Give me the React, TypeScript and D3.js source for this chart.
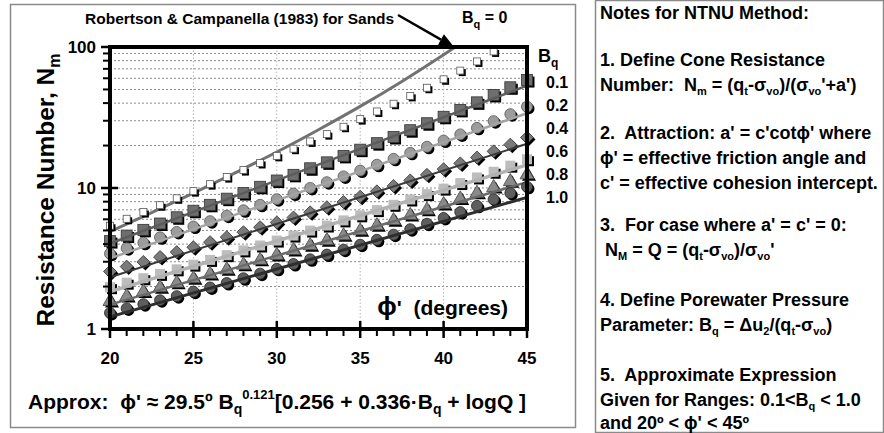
import React from "react";
import * as d3 from "d3";

// ---------- data ----------
const phiDeg = [20,21,22,23,24,25,26,27,28,29,30,31,32,33,34,35,36,37,38,39,40,41,42,43,44,45];
const phiBq0 = [20,21,22,23,24,25,26,27,28,29,30,31,32,33,34,35,36,37,38,39,40,41,42,43];
const nmBq0 = [5.4,6.05,6.75,7.55,8.45,9.5,10.65,11.95,13.4,15.05,16.9,19.0,21.4,24.1,27.2,30.8,34.9,39.6,45.0,51.4,59.0,68.0,79.0,93.0];
const nmBq01 = [4.2,4.6,5.05,5.6,6.2,6.9,7.6,8.4,9.2,10.2,11.3,12.4,13.8,15.2,16.9,18.7,20.8,23.0,25.7,28.8,32.0,35.8,40.5,45.7,51.8,58.3];
const nmBq02 = [3.42,3.74,4.09,4.47,4.88,5.33,5.82,6.36,6.95,7.6,8.33,9.13,10.02,11.0,12.09,13.29,14.62,16.1,17.75,19.6,21.7,24.0,26.7,29.8,33.4,37.7];
const nmBq04 = [2.56,2.77,2.99,3.24,3.51,3.8,4.13,4.48,4.86,5.27,5.7,6.18,6.72,7.31,7.96,8.68,9.47,10.35,11.32,12.4,13.6,14.95,16.45,18.2,20.3,22.8];
const nmBq06 = [1.98,2.13,2.29,2.46,2.65,2.86,3.09,3.34,3.61,3.91,4.24,4.6,4.99,5.42,5.89,6.4,6.97,7.6,8.29,9.05,9.9,10.84,11.88,13.04,14.4,16.0];
const nmBq08 = [1.57,1.7,1.83,1.96,2.11,2.27,2.44,2.63,2.84,3.07,3.33,3.6,3.9,4.23,4.58,4.97,5.4,5.87,6.39,6.97,7.63,8.36,9.17,10.07,11.1,12.4];
const nmBq10 = [1.3,1.4,1.5,1.6,1.71,1.84,1.97,2.12,2.29,2.47,2.67,2.89,3.12,3.37,3.65,3.96,4.29,4.67,5.1,5.58,6.13,6.75,7.47,8.3,9.2,10.2];

// approximate-expression lines (end points)
const fitPhi = [20, 45];
const fitBq01 = [4.04, 53.2];
const fitBq02 = [3.17, 33.9];
const fitBq04 = [2.33, 20.6];
const fitBq06 = [1.84, 14.6];
const fitBq08 = [1.49, 11.0];
const fitBq10 = [1.22, 8.58];

// Robertson & Campanella (1983)
const rcPhi = [20,22.5,25,27.5,30,32.5,35,37.5,40,40.7];
const rcNm = [4.9,6.7,9.2,12.8,18.0,25.9,37.9,57.0,88.1,100];

const xTicks = [20,25,30,35,40,45];
const yTicks = [1,10,100];
const bqLabels = ["0.1","0.2","0.4","0.6","0.8","1.0"];

const FONT = "'Liberation Sans', Arial, Helvetica, sans-serif";

const x = d3.scaleLinear().domain([20, 45]).range([110, 527]);
const y = d3.scaleLog().domain([1, 100]).range([329, 47]);

type Shape = "sqS" | "sqM" | "sqL" | "circle" | "diamond" | "tri";

function Marker({ shape, cx, cy, fill, stroke }: { shape: Shape; cx: number; cy: number; fill: string; stroke?: string }) {
  const draw = (dx: number, dy: number, f: string, s?: string) => {
    const X = cx + dx, Y = cy + dy;
    const sw = s ? 0.8 : 0;
    if (shape === "sqS") return <rect x={X - 3.5} y={Y - 3.5} width={7} height={7} fill={f} stroke={s} strokeWidth={sw} />;
    if (shape === "sqM") return <rect x={X - 5} y={Y - 5} width={10} height={10} fill={f} stroke={s} strokeWidth={sw} />;
    if (shape === "sqL") return <rect x={X - 5.5} y={Y - 5.5} width={11} height={11} fill={f} stroke={s} strokeWidth={sw} />;
    if (shape === "circle") return <circle cx={X} cy={Y} r={5.5} fill={f} stroke={s} strokeWidth={sw} />;
    if (shape === "diamond")
      return <polygon points={`${X},${Y - 6.5} ${X + 6.5},${Y} ${X},${Y + 6.5} ${X - 6.5},${Y}`} fill={f} stroke={s} strokeWidth={sw} />;
    const sym = d3.symbol().type(d3.symbolTriangle).size(85);
    return <path d={sym() as string} transform={`translate(${X},${Y})`} fill={f} stroke={s} strokeWidth={sw} />;
  };
  return (
    <g>
      {draw(2, 2, "#000")}
      {draw(0, 0, fill, stroke)}
    </g>
  );
}

const lineGen = d3.line<[number, number]>().x(d => x(d[0])).y(d => y(d[1]));
const rcGen = d3.line<[number, number]>().x(d => x(d[0])).y(d => y(d[1])).curve(d3.curveMonotoneX);

const zip = (a: number[], b: number[]) => a.map((v, i) => [v, b[i]] as [number, number]);

const seriesDefs = [
  { vals: nmBq01, fit: fitBq01, shape: "sqL" as Shape, fill: "#6e6e6e", stroke: "#333", line: "#5c5c5c", lw: 2.5 },
  { vals: nmBq02, fit: fitBq02, shape: "circle" as Shape, fill: "#9c9c9c", stroke: "#555", line: "#a4a4a4", lw: 2.5 },
  { vals: nmBq04, fit: fitBq04, shape: "diamond" as Shape, fill: "#7a7a7a", stroke: "#333", line: "#3a3a3a", lw: 2 },
  { vals: nmBq06, fit: fitBq06, shape: "sqM" as Shape, fill: "#bdbdbd", stroke: undefined, line: "#b2b2b2", lw: 3.5 },
  { vals: nmBq08, fit: fitBq08, shape: "tri" as Shape, fill: "#8a8a8a", stroke: "#444", line: "#6a6a6a", lw: 2.5 },
  { vals: nmBq10, fit: fitBq10, shape: "circle" as Shape, fill: "#5e5e5e", stroke: "#222", line: "#2e2e2e", lw: 3 },
];

const PRE = { whiteSpace: "pre" as const };

export default function App() {
  const minorY: number[] = [];
  [1, 10].forEach(d => { for (let k = 2; k <= 9; k++) minorY.push(d * k); });
  const gridY = [...minorY, 10];
  const minorX: number[] = [];
  for (let v = 21; v < 45; v++) if (v % 5 !== 0) minorX.push(v);

  const notes: { y: number; content: React.ReactNode }[] = [
    { y: 19, content: "Notes for NTNU Method:" },
    { y: 66, content: "1. Define Cone Resistance" },
    { y: 91, content: <>Number:  N<tspan dy="4" fontSize="11">m</tspan><tspan dy="-4"> = (q</tspan><tspan dy="4" fontSize="11">t</tspan><tspan dy="-4">-σ</tspan><tspan dy="4" fontSize="11">vo</tspan><tspan dy="-4">)/(σ</tspan><tspan dy="4" fontSize="11">vo</tspan><tspan dy="-4">'+a')</tspan></> },
    { y: 139, content: "2.  Attraction: a' = c'cotϕ' where" },
    { y: 164, content: "ϕ' = effective friction angle and" },
    { y: 189, content: "c' = effective cohesion intercept." },
    { y: 231, content: "3.  For case where a' = c' = 0:" },
    { y: 256, content: <> N<tspan dy="4" fontSize="11">M</tspan><tspan dy="-4"> = Q = (q</tspan><tspan dy="4" fontSize="11">t</tspan><tspan dy="-4">-σ</tspan><tspan dy="4" fontSize="11">vo</tspan><tspan dy="-4">)/σ</tspan><tspan dy="4" fontSize="11">vo</tspan><tspan dy="-4">'</tspan></> },
    { y: 306, content: "4. Define Porewater Pressure" },
    { y: 331, content: <>Parameter: B<tspan dy="4" fontSize="11">q</tspan><tspan dy="-4"> = Δu</tspan><tspan dy="4" fontSize="11">2</tspan><tspan dy="-4">/(q</tspan><tspan dy="4" fontSize="11">t</tspan><tspan dy="-4">-σ</tspan><tspan dy="4" fontSize="11">vo</tspan><tspan dy="-4">)</tspan></> },
    { y: 381, content: "5.  Approximate Expression" },
    { y: 406, content: <>Given for Ranges: 0.1&lt;B<tspan dy="4" fontSize="11">q</tspan><tspan dy="-4"> &lt; 1.0</tspan></> },
    { y: 429, content: "and 20º < ϕ' < 45º" },
  ];

  const bqLabelY = [88, 111, 134, 157, 180, 203];

  // arrow geometry
  const ax0 = 398, ay0 = 15, ax1 = 454, ay1 = 47;
  const ang = Math.atan2(ay1 - ay0, ax1 - ax0);
  const hl = 15, hw = 6;
  const bx = ax1 - hl * Math.cos(ang), by = ay1 - hl * Math.sin(ang);
  const px = -Math.sin(ang) * hw, py = Math.cos(ang) * hw;

  return (
    <svg width={884} height={433} style={{ position: "absolute", left: 0, top: 0, background: "#fff" }} fontFamily={FONT} fontWeight="bold">
      <defs>
        <clipPath id="plotClip">
          <rect x={110} y={47} width={417} height={282} />
        </clipPath>
      </defs>
      {/* boxes */}
      <rect x={10.5} y={4.5} width={565} height={423} fill="none" stroke="#8a8a8a" strokeWidth={1.5} />
      <rect x={595.5} y={0.5} width={288} height={432} fill="none" stroke="#8a8a8a" strokeWidth={1.5} />

      {/* grid */}
      {gridY.map(v => (
        <line key={"gy" + v} x1={110} x2={527} y1={y(v)} y2={y(v)} stroke="#8c8c8c" strokeWidth={1} strokeDasharray="2,2" />
      ))}
      {[25, 30, 35, 40].map(v => (
        <line key={"gx" + v} x1={x(v)} x2={x(v)} y1={47} y2={329} stroke="#b4b4b4" strokeWidth={1} strokeDasharray="1.5,2" />
      ))}

      {/* series */}
      <g clipPath="url(#plotClip)">
        <path d={rcGen(zip(rcPhi, rcNm)) as string} fill="none" stroke="#727272" strokeWidth={3} />
      </g>
      {phiBq0.map((p, i) => (
        <Marker key={"b0" + i} shape="sqS" cx={x(p)} cy={y(nmBq0[i])} fill="#fff" stroke="#555" />
      ))}
      {seriesDefs.map((s, si) => (
        <g key={"s" + si}>
          {phiDeg.map((p, i) => (
            <Marker key={i} shape={s.shape} cx={x(p)} cy={y(s.vals[i])} fill={s.fill} stroke={s.stroke} />
          ))}
          <path d={lineGen(zip(fitPhi, s.fit)) as string} fill="none" stroke={s.line} strokeWidth={s.lw} />
        </g>
      ))}

      {/* frame */}
      <rect x={110} y={47} width={417} height={282} fill="none" stroke="#000" strokeWidth={4} />

      {/* y ticks */}
      {minorY.map(v => (
        <line key={"ty" + v} x1={103} x2={110} y1={y(v)} y2={y(v)} stroke="#000" strokeWidth={2} />
      ))}
      {yTicks.map(v => (
        <g key={"yt" + v}>
          <line x1={101} x2={118} y1={y(v)} y2={y(v)} stroke="#000" strokeWidth={2.5} />
          <text x={96} y={y(v) + 6} textAnchor="end" fontSize={17}>{v}</text>
        </g>
      ))}
      {/* x ticks */}
      {minorX.map(v => (
        <line key={"tx" + v} x1={x(v)} x2={x(v)} y1={329} y2={336} stroke="#000" strokeWidth={2} />
      ))}
      {xTicks.map(v => (
        <g key={"xt" + v}>
          <line x1={x(v)} x2={x(v)} y1={321} y2={338} stroke="#000" strokeWidth={2.5} />
          <text x={x(v)} y={364} textAnchor="middle" fontSize={17}>{v}</text>
        </g>
      ))}

      {/* axis titles */}
      <text transform="translate(54,190) rotate(-90)" textAnchor="middle" fontSize={24.5}>
        Resistance Number, N<tspan dy="6" fontSize={16}>m</tspan>
      </text>
      <text x={508} y={315} textAnchor="end" fontSize={21} style={PRE}>
        <tspan fontSize={26}>ϕ</tspan>{"'  (degrees)"}
      </text>

      {/* title & arrow */}
      <text x={85} y={24} fontSize={15.5}>Robertson &amp; Campanella (1983) for Sands</text>
      <line x1={ax0} y1={ay0} x2={bx} y2={by} stroke="#000" strokeWidth={2.5} />
      <polygon points={`${ax1},${ay1} ${bx + px},${by + py} ${bx - px},${by - py}`} fill="#000" />
      <text x={462} y={23} fontSize={16}>
        B<tspan dy="5" fontSize={11}>q</tspan><tspan dy="-5"> = 0</tspan>
      </text>

      {/* Bq labels */}
      <text x={538} y={62} fontSize={18}>
        B<tspan dy="5" fontSize={12}>q</tspan>
      </text>
      {bqLabels.map((t, i) => (
        <text key={t} x={546} y={bqLabelY[i]} fontSize={16}>{t}</text>
      ))}

      {/* formula */}
      <text x={28} y={409} fontSize={21} style={PRE}>
        {"Approx:  ϕ' ≈ 29.5º B"}<tspan dy="5" fontSize={14}>q</tspan><tspan dy="-15" fontSize={13}>0.121</tspan><tspan dy="10">[0.256 + 0.336·B</tspan><tspan dy="5" fontSize={14}>q</tspan><tspan dy="-5"> + logQ ]</tspan>
      </text>

      {/* notes */}
      {notes.map((n, i) => (
        <text key={"n" + i} x={600} y={n.y} fontSize={18} style={PRE}>{n.content}</text>
      ))}
    </svg>
  );
}
